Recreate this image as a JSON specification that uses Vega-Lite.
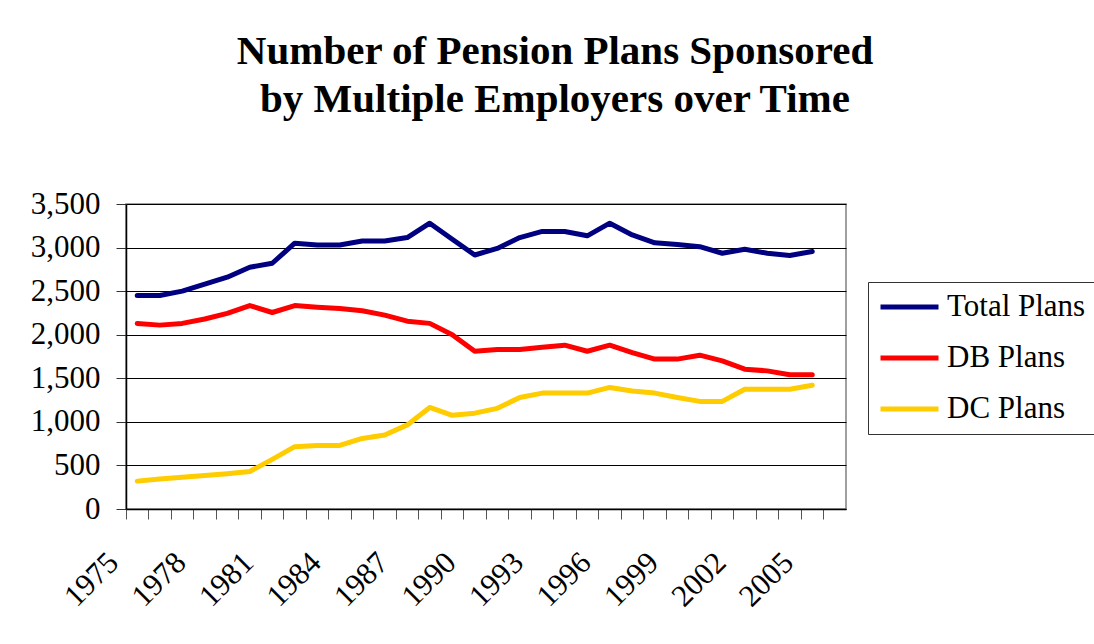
{
  "$schema": "https://vega.github.io/schema/vega-lite/v6.json",
  "width": 720,
  "height": 305,
  "autosize": {"type": "none"},
  "padding": {"left": 126, "top": 204, "right": 248, "bottom": 135},
  "background": "white",
  "title": {
    "text": ["Number of Pension Plans Sponsored", "by Multiple Employers over Time"],
    "font": "'Liberation Serif', 'DejaVu Serif', serif",
    "fontSize": 41,
    "fontWeight": "bold",
    "color": "black",
    "lineHeight": 48,
    "anchor": "middle",
    "frame": "group",
    "dx": 69,
    "offset": 67
  },
  "data": {
    "values": [
      {"year": 1975, "series": "Total Plans", "value": 2450}, {"year": 1975, "series": "DB Plans", "value": 2130}, {"year": 1975, "series": "DC Plans", "value": 320},
      {"year": 1976, "series": "Total Plans", "value": 2450}, {"year": 1976, "series": "DB Plans", "value": 2110}, {"year": 1976, "series": "DC Plans", "value": 345},
      {"year": 1977, "series": "Total Plans", "value": 2500}, {"year": 1977, "series": "DB Plans", "value": 2130}, {"year": 1977, "series": "DC Plans", "value": 365},
      {"year": 1978, "series": "Total Plans", "value": 2580}, {"year": 1978, "series": "DB Plans", "value": 2180}, {"year": 1978, "series": "DC Plans", "value": 385},
      {"year": 1979, "series": "Total Plans", "value": 2660}, {"year": 1979, "series": "DB Plans", "value": 2245}, {"year": 1979, "series": "DC Plans", "value": 405},
      {"year": 1980, "series": "Total Plans", "value": 2775}, {"year": 1980, "series": "DB Plans", "value": 2335}, {"year": 1980, "series": "DC Plans", "value": 430},
      {"year": 1981, "series": "Total Plans", "value": 2820}, {"year": 1981, "series": "DB Plans", "value": 2255}, {"year": 1981, "series": "DC Plans", "value": 570},
      {"year": 1982, "series": "Total Plans", "value": 3050}, {"year": 1982, "series": "DB Plans", "value": 2335}, {"year": 1982, "series": "DC Plans", "value": 715},
      {"year": 1983, "series": "Total Plans", "value": 3030}, {"year": 1983, "series": "DB Plans", "value": 2315}, {"year": 1983, "series": "DC Plans", "value": 730},
      {"year": 1984, "series": "Total Plans", "value": 3030}, {"year": 1984, "series": "DB Plans", "value": 2300}, {"year": 1984, "series": "DC Plans", "value": 730},
      {"year": 1985, "series": "Total Plans", "value": 3075}, {"year": 1985, "series": "DB Plans", "value": 2275}, {"year": 1985, "series": "DC Plans", "value": 810},
      {"year": 1986, "series": "Total Plans", "value": 3075}, {"year": 1986, "series": "DB Plans", "value": 2225}, {"year": 1986, "series": "DC Plans", "value": 850},
      {"year": 1987, "series": "Total Plans", "value": 3115}, {"year": 1987, "series": "DB Plans", "value": 2155}, {"year": 1987, "series": "DC Plans", "value": 965},
      {"year": 1988, "series": "Total Plans", "value": 3280}, {"year": 1988, "series": "DB Plans", "value": 2130}, {"year": 1988, "series": "DC Plans", "value": 1165},
      {"year": 1989, "series": "Total Plans", "value": 3095}, {"year": 1989, "series": "DB Plans", "value": 2000}, {"year": 1989, "series": "DC Plans", "value": 1075},
      {"year": 1990, "series": "Total Plans", "value": 2915}, {"year": 1990, "series": "DB Plans", "value": 1810}, {"year": 1990, "series": "DC Plans", "value": 1100},
      {"year": 1991, "series": "Total Plans", "value": 2990}, {"year": 1991, "series": "DB Plans", "value": 1830}, {"year": 1991, "series": "DC Plans", "value": 1155},
      {"year": 1992, "series": "Total Plans", "value": 3115}, {"year": 1992, "series": "DB Plans", "value": 1830}, {"year": 1992, "series": "DC Plans", "value": 1280},
      {"year": 1993, "series": "Total Plans", "value": 3185}, {"year": 1993, "series": "DB Plans", "value": 1855}, {"year": 1993, "series": "DC Plans", "value": 1330},
      {"year": 1994, "series": "Total Plans", "value": 3185}, {"year": 1994, "series": "DB Plans", "value": 1880}, {"year": 1994, "series": "DC Plans", "value": 1330},
      {"year": 1995, "series": "Total Plans", "value": 3135}, {"year": 1995, "series": "DB Plans", "value": 1810}, {"year": 1995, "series": "DC Plans", "value": 1330},
      {"year": 1996, "series": "Total Plans", "value": 3280}, {"year": 1996, "series": "DB Plans", "value": 1880}, {"year": 1996, "series": "DC Plans", "value": 1395},
      {"year": 1997, "series": "Total Plans", "value": 3145}, {"year": 1997, "series": "DB Plans", "value": 1795}, {"year": 1997, "series": "DC Plans", "value": 1355},
      {"year": 1998, "series": "Total Plans", "value": 3055}, {"year": 1998, "series": "DB Plans", "value": 1720}, {"year": 1998, "series": "DC Plans", "value": 1330},
      {"year": 1999, "series": "Total Plans", "value": 3035}, {"year": 1999, "series": "DB Plans", "value": 1720}, {"year": 1999, "series": "DC Plans", "value": 1280},
      {"year": 2000, "series": "Total Plans", "value": 3010}, {"year": 2000, "series": "DB Plans", "value": 1765}, {"year": 2000, "series": "DC Plans", "value": 1235},
      {"year": 2001, "series": "Total Plans", "value": 2935}, {"year": 2001, "series": "DB Plans", "value": 1700}, {"year": 2001, "series": "DC Plans", "value": 1235},
      {"year": 2002, "series": "Total Plans", "value": 2980}, {"year": 2002, "series": "DB Plans", "value": 1605}, {"year": 2002, "series": "DC Plans", "value": 1375},
      {"year": 2003, "series": "Total Plans", "value": 2935}, {"year": 2003, "series": "DB Plans", "value": 1585}, {"year": 2003, "series": "DC Plans", "value": 1375},
      {"year": 2004, "series": "Total Plans", "value": 2910}, {"year": 2004, "series": "DB Plans", "value": 1540}, {"year": 2004, "series": "DC Plans", "value": 1375},
      {"year": 2005, "series": "Total Plans", "value": 2955}, {"year": 2005, "series": "DB Plans", "value": 1540}, {"year": 2005, "series": "DC Plans", "value": 1420}
    ]
  },
  "mark": {"type": "line", "strokeWidth": 5, "strokeCap": "round", "strokeJoin": "round"},
  "encoding": {
    "x": {
      "field": "year",
      "type": "ordinal",
      "bandPosition": 0.5,
      "scale": {
        "type": "band",
        "paddingInner": 0,
        "paddingOuter": 0,
        "domain": [1975,1976,1977,1978,1979,1980,1981,1982,1983,1984,1985,1986,1987,1988,1989,1990,1991,1992,1993,1994,1995,1996,1997,1998,1999,2000,2001,2002,2003,2004,2005,2006]
      },
      "axis": {
        "title": null,
        "bandPosition": 0,
        "grid": false,
        "domainColor": "black",
        "domainWidth": 1.5,
        "tickColor": "#555555",
        "tickSize": 10,
        "labelExpr": "(datum.value - 1975) % 3 == 0 ? datum.label : ''",
        "labelAngle": -45,
        "labelAlign": "right",
        "labelBaseline": "top",
        "labelPadding": 28,
        "labelOffset": -34,
        "labelFont": "'Liberation Serif', 'DejaVu Serif', serif",
        "labelFontSize": 31,
        "labelColor": "black",
        "labelOverlap": false,
        "labelBound": false,
        "labelFlush": false
      }
    },
    "y": {
      "field": "value",
      "type": "quantitative",
      "scale": {"domain": [0, 3500], "nice": false, "zero": true},
      "axis": {
        "title": null,
        "values": [0, 500, 1000, 1500, 2000, 2500, 3000, 3500],
        "format": ",d",
        "grid": true,
        "gridColor": "black",
        "gridOpacity": 1,
        "gridWidth": 1,
        "domainColor": "black",
        "domainWidth": 1.5,
        "tickColor": "#333333",
        "tickSize": 10,
        "labelPadding": 16,
        "labelFont": "'Liberation Serif', 'DejaVu Serif', serif",
        "labelFontSize": 31,
        "labelColor": "black",
        "labelBaseline": "middle",
        "labelFlush": false,
        "labelOverlap": false
      }
    },
    "color": {
      "field": "series",
      "type": "nominal",
      "scale": {
        "domain": ["Total Plans", "DB Plans", "DC Plans"],
        "range": ["#000080", "#FF0000", "#FFCC00"]
      },
      "legend": {
        "title": null,
        "orient": "none",
        "legendX": 742,
        "legendY": 78,
        "direction": "vertical",
        "strokeColor": "#333333",
        "fillColor": "white",
        "padding": 10,
        "symbolType": "M-1,0H1",
        "symbolSize": 3364,
        "symbolStrokeWidth": 5,
        "clipHeight": 30,
        "labelOffset": 6,
        "labelFont": "'Liberation Serif', 'DejaVu Serif', serif",
        "labelFontSize": 31,
        "labelColor": "black",
        "labelLimit": 400,
        "rowPadding": 20
      }
    }
  },
  "config": {
    "view": {"stroke": "#808080", "strokeWidth": 1.5}
  }
}
